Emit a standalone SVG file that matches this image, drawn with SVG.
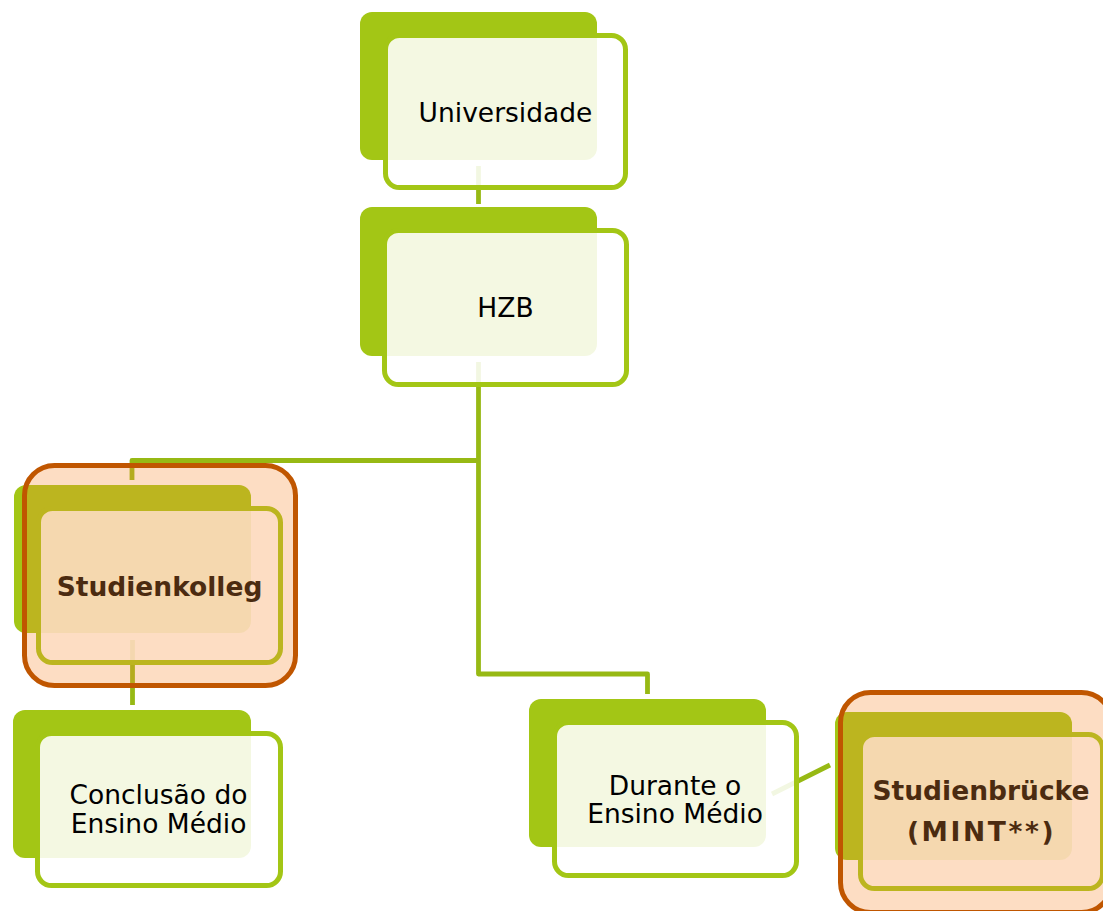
<svg xmlns="http://www.w3.org/2000/svg" width="1103" height="911" viewBox="0 0 1103 911">
<style>
.back{fill:#A3C615;}
.front{fill:#FFFFFF;fill-opacity:0.88;stroke:#A3C615;stroke-width:5;}
.hl{fill:#F88E37;fill-opacity:0.3;stroke:#C05600;stroke-width:5;}
.conn{fill:none;stroke:#97B914;stroke-width:4.8;stroke-linejoin:round;}
text{font-family:"DejaVu Sans","Verdana",sans-serif;font-size:26.5px;fill:#000;text-anchor:middle;}
.b{font-weight:bold;}
</style>
<rect width="1103" height="911" fill="#FFFFFF"/>
<g id="connectors">
<path class="conn" d="M478.5,166 V204"/>
<path class="conn" d="M478.5,362 V674 H647.5 V694"/>
<path class="conn" d="M478.5,460.5 H132 V480"/>
<path class="conn" d="M132.5,640 V705"/>
<path class="conn" d="M772,794 L830,765"/>
</g>
<g id="node-universidade">
<rect class="back" x="360" y="12" width="237" height="148" rx="12"/>
<rect class="front" x="385.5" y="35.5" width="240" height="152" rx="14"/>
<text x="505.5" y="122">Universidade</text>
</g>
<g id="node-hzb">
<rect class="back" x="360" y="207" width="237" height="149" rx="12"/>
<rect class="front" x="384.5" y="230.5" width="242" height="154" rx="14"/>
<text x="505.5" y="317">HZB</text>
</g>
<g id="node-studienkolleg">
<rect class="back" x="14" y="485" width="237" height="148" rx="12"/>
<rect class="front" x="38.5" y="508.5" width="242" height="154" rx="14"/>
<text class="b" x="159.5" y="596">Studienkolleg</text>
<rect class="hl" x="24.5" y="465.5" width="271" height="220" rx="30"/>
</g>
<g id="node-conclusao">
<rect class="back" x="13" y="710" width="238" height="148" rx="12"/>
<rect class="front" x="37.5" y="733.5" width="243" height="152" rx="14"/>
<text x="158.5" y="804">Conclusão do</text>
<text x="158.5" y="833">Ensino Médio</text>
</g>
<g id="node-durante">
<rect class="back" x="529" y="699" width="237" height="148" rx="12"/>
<rect class="front" x="554.5" y="722.5" width="242" height="153" rx="14"/>
<text x="675" y="795">Durante o</text>
<text x="675" y="823">Ensino Médio</text>
</g>
<g id="node-studienbruecke">
<rect class="back" x="835" y="712" width="237" height="148" rx="12"/>
<rect class="front" x="860.5" y="734.5" width="242" height="154" rx="14"/>
<text class="b" x="981" y="800">Studienbrücke</text>
<text class="b" x="981.5" y="841" letter-spacing="2.6">(MINT**)</text>
<rect class="hl" x="840.5" y="692.5" width="271" height="220" rx="30"/>
</g>
</svg>
